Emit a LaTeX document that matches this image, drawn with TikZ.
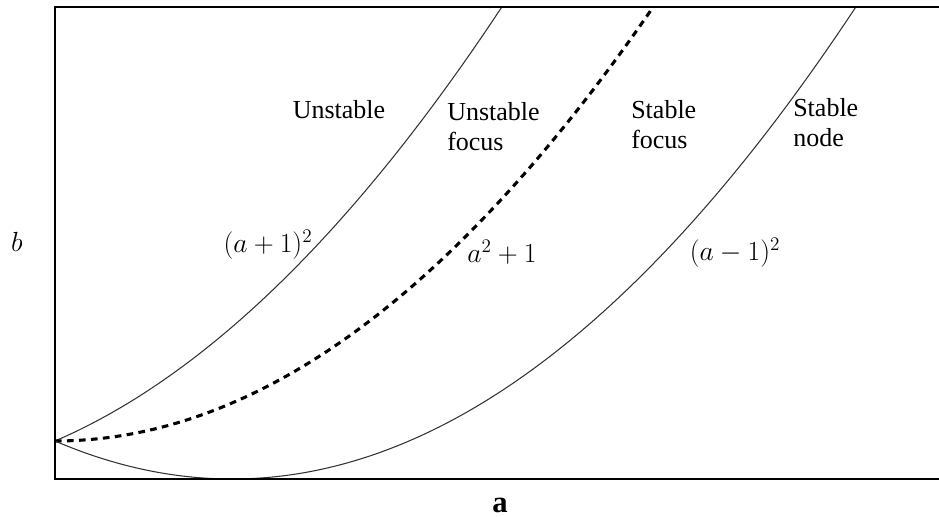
\documentclass[tikz,border=0pt]{standalone}
\usepackage{fontspec}
\setmainfont{Liberation Serif}
\begin{document}
\begin{tikzpicture}[x=0.75pt,y=-0.75pt,
  lbl/.style={font=\fontsize{19.5}{22.5}\selectfont, inner sep=0pt},
  curve/.style={line width=0.8pt, black!80},
  dcurve/.style={line width=2.3pt, black, dash pattern=on 5pt off 4pt},
  frame/.style={line width=1.1pt, black}]
\useasboundingbox (0,0) rectangle (939,517);
\begin{scope}
\clip (55,7) rectangle (950,479);
\draw[curve] plot[domain=0:2.6, samples=120] ({55+177*\x},{479-38*(\x+1)^2});
\draw[dcurve] plot[domain=0:3.45, samples=120] ({55+177*\x},{479-38*(\x*\x+1)});
\draw[curve] plot[domain=0:4.6, samples=160] ({55+177*\x},{479-38*(\x-1)^2});
\end{scope}
\draw[frame] (960,7) -- (55,7) -- (55,479) -- (960,479);
\node[lbl] (unst) at (339,110) {Unstable};
\node[lbl, align=left, anchor=west] (uf) at (447,127) {Unstable\\focus};
\node[lbl, align=left, anchor=west] (sf) at (631,125) {Stable\\focus};
\node[lbl, align=left, anchor=west] (sn) at (793,123) {Stable\\node};
\node[lbl] (l1) at (268,245) {$(a+1)^2$};
\node[lbl] (l2) at (502,252) {$a^2+1$};
\node[lbl] (l3) at (735,253) {$(a-1)^2$};
\node[lbl] (bl) at (17,242) {$b$};
\node[font=\fontsize{23}{26}\selectfont\bfseries, inner sep=0pt] (al) at (500,505) {a};
\end{tikzpicture}
\end{document}
